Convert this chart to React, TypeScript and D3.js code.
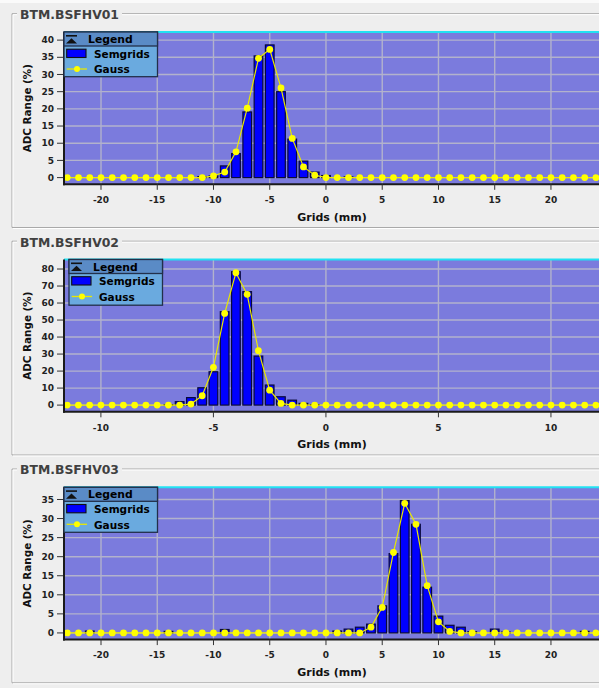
import React from "react";
import * as d3 from "d3";

// ---------- DATA ----------
const panelTitles = ["BTM.BSFHV01", "BTM.BSFHV02", "BTM.BSFHV03"];

const grids1 = [-23, -22, -21, -20, -19, -18, -17, -16, -15, -14, -13, -12, -11, -10, -9, -8, -7, -6, -5, -4, -3, -2, -1, 0, 1, 2, 3, 4, 5, 6, 7, 8, 9, 10, 11, 12, 13, 14, 15, 16, 17, 18, 19, 20, 21, 22, 23, 24];
const semgrids1 = [0, 0, 0, 0, 0, 0, 0, 0, 0, 0, 0, 0, 0.3, 0.5, 3.4, 7.0, 19.1, 35.4, 38.6, 25.0, 11.2, 4.8, 1.6, 0.6, 0, 0.2, 0, 0, 0, 0, 0, 0, 0, 0, 0, 0, 0, 0, 0, 0, 0, 0, 0, 0, 0, 0, 0, 0];
const gauss1 = [0, 0, 0, 0, 0, 0, 0, 0, 0, 0, 0, 0, 0, 0.5, 1.6, 7.5, 20.2, 34.7, 37.3, 26.1, 11.4, 3.1, 0.7, 0, 0, 0, 0, 0, 0, 0, 0, 0, 0, 0, 0, 0, 0, 0, 0, 0, 0, 0, 0, 0, 0, 0, 0, 0];

const grids2 = [-11.5, -11, -10.5, -10, -9.5, -9, -8.5, -8, -7.5, -7, -6.5, -6, -5.5, -5, -4.5, -4, -3.5, -3, -2.5, -2, -1.5, -1, -0.5, 0, 0.5, 1, 1.5, 2, 2.5, 3, 3.5, 4, 4.5, 5, 5.5, 6, 6.5, 7, 7.5, 8, 8.5, 9, 9.5, 10, 10.5, 11, 11.5, 12];
const semgrids2 = [0, 0, 0, 0, 0, 0, 0, 0, 0, 0.3, 2.0, 4.4, 10.2, 19.6, 54.9, 78.4, 66.7, 28.8, 11.8, 4.9, 2.9, 1.0, 0.3, 0, 0, 0, 0, 0, 0, 0, 0, 0, 0, 0, 0, 0, 0, 0, 0, 0, 0, 0, 0, 0, 0, 0, 0, 0];
const gauss2 = [0, 0, 0, 0, 0, 0, 0, 0, 0, 0, 0, 0.6, 5.5, 22.2, 53.9, 77.8, 65.1, 32.0, 8.8, 1.0, 0, 0, 0, 0, 0, 0, 0, 0, 0, 0, 0, 0, 0, 0, 0, 0, 0, 0, 0, 0, 0, 0, 0, 0, 0, 0, 0, 0];

const grids3 = [-23, -22, -21, -20, -19, -18, -17, -16, -15, -14, -13, -12, -11, -10, -9, -8, -7, -6, -5, -4, -3, -2, -1, 0, 1, 2, 3, 4, 5, 6, 7, 8, 9, 10, 11, 12, 13, 14, 15, 16, 17, 18, 19, 20, 21, 22, 23, 24];
const semgrids3 = [0, 0, 0.5, 0, 0, 0, 0, 0, 0, 0.4, 0, 0, 0, 0, 0.9, 0, 0, 0, 0, 0, 0, 0, 0, 0, 0.5, 1.0, 1.5, 2.3, 7.1, 20.8, 34.7, 28.5, 12.0, 4.4, 2.0, 1.5, 0.3, 0, 1.0, 0.2, 0, 0, 0, 0, 0, 0, 0.4, 0];
const gauss3 = [0, 0, 0, 0, 0, 0, 0, 0, 0, 0, 0, 0, 0, 0, 0, 0, 0, 0, 0, 0, 0, 0, 0, 0, 0, 0, 0, 1.5, 6.7, 21.1, 34.0, 28.5, 12.4, 2.9, 0.4, 0, 0, 0, 0, 0, 0, 0, 0, 0, 0, 0, 0, 0];

const xTicks1 = [-20, -15, -10, -5, 0, 5, 10, 15, 20];
const xTicks2 = [-10, -5, 0, 5, 10];
const xTicks3 = [-20, -15, -10, -5, 0, 5, 10, 15, 20];
const yTicks1 = [0, 5, 10, 15, 20, 25, 30, 35, 40];
const yTicks2 = [0, 10, 20, 30, 40, 50, 60, 70, 80];
const yTicks3 = [0, 5, 10, 15, 20, 25, 30, 35];

const xDomain1 = [-23.29, 24.36];
const xDomain2 = [-11.64, 12.18];
const xDomain3 = [-23.29, 24.36];
const yDomain1 = [-1.95, 42.36];
const yDomain2 = [-3.94, 85.6];
const yDomain3 = [-1.75, 38.2];

const legendLabels = ["Legend", "Semgrids", "Gauss"];
const xAxisLabel = "Grids (mm)";
const yAxisLabel = "ADC Range (%)";

// ---------- STYLE / LAYOUT ----------
const W = 599;
const H = 688;
const FONT = "'DejaVu Sans', Verdana, sans-serif";
const PLOT_LEFT = 64;
const PLOT_RIGHT = 600;
const PLOT_H = 152.3;
const plotTops = [32, 259.5, 487.3];
const legendDx = [0, 5, 0];
const legendH = [44.7, 45.7, 45];

const BG = "#eeeeee";
const PLOT_BG = "#7b7bdd";
const GRID = "#b2b2cc";
const BAR = "#0000ff";
const YEL = "#ffff00";

type PanelProps = {
  idx: number;
  title: string;
  grids: number[];
  sem: number[];
  gauss: number[];
  xDomain: number[];
  yDomain: number[];
  xTicks: number[];
  yTicks: number[];
};

function Panel({ idx, title, grids, sem, gauss, xDomain, yDomain, xTicks, yTicks }: PanelProps) {
  const top = plotTops[idx];
  const bottom = top + PLOT_H;
  const xs = d3.scaleLinear().domain(xDomain).range([PLOT_LEFT, PLOT_RIGHT]);
  const ys = d3.scaleLinear().domain(yDomain).range([bottom, top]);
  const pitch = Math.abs(xs(grids[1]) - xs(grids[0]));
  const bw = pitch * 0.77;
  const line = d3
    .line<number>()
    .x((_, i) => xs(grids[i]))
    .y((d) => ys(d));
  const clipId = `clip${idx}`;
  const frameTop = top - 18.3;
  const frameBottom = top + 195.5;
  const lx = PLOT_LEFT + legendDx[idx];
  const ly = top;
  const lw = 93.5;
  const lh = legendH[idx];
  const midX = (PLOT_LEFT + PLOT_RIGHT) / 2;

  return (
    <g>
      {/* group frame (etched) */}
      <path
        d={`M17,${frameTop} H12 V${frameBottom} H610 M122,${frameTop} H610`}
        fill="none"
        stroke="#a9a9a9"
        strokeWidth={1}
      />
      <path
        d={`M17,${frameTop + 1} H13 V${frameBottom - 1} M13,${frameBottom + 1} H610 M122,${frameTop + 1} H610`}
        fill="none"
        stroke="#ffffff"
        strokeWidth={1}
      />
      <text x={20} y={frameTop + 5.3} fontFamily={FONT} fontWeight="bold" fontSize={12.4} fill="#404040">
        {title}
      </text>

      <defs>
        <clipPath id={clipId}>
          <rect x={PLOT_LEFT} y={top} width={PLOT_RIGHT - PLOT_LEFT} height={PLOT_H} />
        </clipPath>
      </defs>

      {/* plot background */}
      <rect x={PLOT_LEFT} y={top} width={PLOT_RIGHT - PLOT_LEFT} height={PLOT_H} fill={PLOT_BG} />

      {/* grid */}
      {yTicks.map((t) => (
        <line key={`gy${t}`} x1={PLOT_LEFT} x2={PLOT_RIGHT} y1={ys(t)} y2={ys(t)} stroke={GRID} strokeWidth={1.4} />
      ))}
      {xTicks.map((t) => (
        <line key={`gx${t}`} x1={xs(t)} x2={xs(t)} y1={top} y2={bottom} stroke={GRID} strokeWidth={1.4} />
      ))}

      <g clipPath={`url(#${clipId})`}>
        {/* bars */}
        {sem.map((v, i) =>
          v > 0 ? (
            <rect
              key={`b${i}`}
              x={xs(grids[i]) - bw / 2}
              y={ys(v)}
              width={bw}
              height={ys(0) - ys(v)}
              fill={BAR}
              stroke="#0a0a3a"
              strokeWidth={1.2}
            />
          ) : null
        )}
        {/* gauss line */}
        <path d={line(gauss) || ""} fill="none" stroke="#e8e800" strokeWidth={1.2} />
        {gauss.map((v, i) => (
          <circle key={`c${i}`} cx={xs(grids[i])} cy={ys(v)} r={3.4} fill={YEL} />
        ))}
      </g>

      {/* top cyan border */}
      <line x1={PLOT_LEFT} x2={PLOT_RIGHT} y1={top} y2={top} stroke="#22e2f2" strokeWidth={2} />
      {/* axes */}
      <line x1={PLOT_LEFT} x2={PLOT_LEFT} y1={top} y2={bottom + 1} stroke="#1a1a1a" strokeWidth={2} />
      <line x1={PLOT_LEFT - 1} x2={PLOT_RIGHT} y1={bottom} y2={bottom} stroke="#1a1a1a" strokeWidth={2} />

      {/* y ticks */}
      {yTicks.map((t) => (
        <g key={`ty${t}`}>
          <line x1={57} x2={63} y1={ys(t)} y2={ys(t)} stroke="#333" strokeWidth={1} />
          <text x={54} y={ys(t) + 3.2} textAnchor="end" fontFamily={FONT} fontWeight="bold" fontSize={9} fill="#222">
            {t}
          </text>
        </g>
      ))}
      {/* x ticks */}
      {xTicks.map((t) => (
        <g key={`tx${t}`}>
          <line x1={xs(t)} x2={xs(t)} y1={bottom} y2={bottom + 5.5} stroke="#333" strokeWidth={1} />
          <text x={xs(t)} y={bottom + 18.8} textAnchor="middle" fontFamily={FONT} fontWeight="bold" fontSize={9} fill="#222">
            {t}
          </text>
        </g>
      ))}

      {/* axis labels */}
      <text x={midX} y={bottom + 36.5} textAnchor="middle" fontFamily={FONT} fontWeight="bold" fontSize={11} fill="#111">
        {xAxisLabel}
      </text>
      <text
        transform={`translate(30.5,${(top + bottom) / 2}) rotate(-90)`}
        textAnchor="middle"
        fontFamily={FONT}
        fontWeight="bold"
        fontSize={10.4}
        fill="#111"
      >
        {yAxisLabel}
      </text>

      {/* legend */}
      <g>
        <rect x={lx} y={ly} width={lw} height={lh} fill="#6aaadf" stroke="#22304a" strokeWidth={1.3} />
        <rect x={lx} y={ly} width={lw} height={14} fill="#5a8bc6" stroke="#22304a" strokeWidth={1.3} />
        <rect x={lx + 2} y={ly + 3} width={11} height={1.6} fill="#111" />
        <path d={`M${lx + 7.5},${ly + 6.2} L${lx + 2},${ly + 11.4} L${lx + 13},${ly + 11.4} Z`} fill="#111" />
        <text x={lx + 24} y={ly + 11} fontFamily={FONT} fontWeight="bold" fontSize={10.8} fill="#000">
          {legendLabels[0]}
        </text>
        <rect x={lx + 2.7} y={ly + 17.2} width={19.3} height={8.3} fill={BAR} stroke="#111" strokeWidth={1.1} />
        <text x={lx + 30} y={ly + 25.7} fontFamily={FONT} fontWeight="bold" fontSize={10.5} fill="#000">
          {legendLabels[1]}
        </text>
        <line x1={lx + 2.7} x2={lx + 23} y1={ly + 37} y2={ly + 37} stroke="#e8e800" strokeWidth={1.3} />
        <circle cx={lx + 13} cy={ly + 37} r={3} fill={YEL} />
        <text x={lx + 30} y={ly + 41.2} fontFamily={FONT} fontWeight="bold" fontSize={10.5} fill="#000">
          {legendLabels[2]}
        </text>
      </g>
    </g>
  );
}

export default function App() {
  const panels = [
    { grids: grids1, sem: semgrids1, gauss: gauss1, xDomain: xDomain1, yDomain: yDomain1, xTicks: xTicks1, yTicks: yTicks1 },
    { grids: grids2, sem: semgrids2, gauss: gauss2, xDomain: xDomain2, yDomain: yDomain2, xTicks: xTicks2, yTicks: yTicks2 },
    { grids: grids3, sem: semgrids3, gauss: gauss3, xDomain: xDomain3, yDomain: yDomain3, xTicks: xTicks3, yTicks: yTicks3 },
  ];
  return (
    <div style={{ position: "absolute", left: 0, top: 0, width: W, height: H, overflow: "hidden" }}>
      <svg width={W} height={H} viewBox={`0 0 ${W} ${H}`} style={{ display: "block" }}>
        <rect x={0} y={0} width={W} height={H} fill={BG} />
        <rect x={0} y={0} width={W} height={3} fill="#fafafa" />
        {panels.map((p, i) => (
          <Panel key={i} idx={i} title={panelTitles[i]} {...p} />
        ))}
      </svg>
    </div>
  );
}
